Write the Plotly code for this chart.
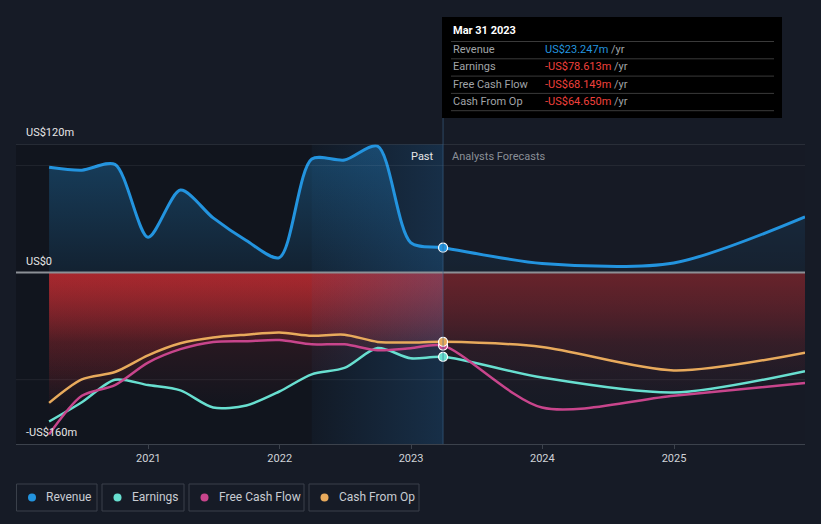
import plotly.graph_objects as go
import pandas as pd

# ---------------- data (US$ m) ----------------
dates_past = ['2020-03-31', '2020-06-30', '2020-09-30', '2020-12-31', '2021-03-31', '2021-06-30',
              '2021-09-30', '2021-12-31', '2022-03-31', '2022-06-30', '2022-09-30', '2022-12-31',
              '2023-03-31']
dates_fc = ['2023-12-31', '2024-12-31', '2025-12-31']

revenue_past = [98.4, 95.6, 101.0, 33.0, 77.0, 51.0, 30.0, 14.0, 106.0, 105.0, 118.0, 28.0, 23.247]
revenue_fc = [8.5, 9.0, 52.0]
earnings_past = [-139.0, -121.0, -100.0, -105.0, -110.0, -126.0, -124.0, -111.0, -95.0, -89.0, -70.5, -80.0, -78.613]
earnings_fc = [-98.0, -112.0, -92.0]
fcf_past = [-151.0, -115.0, -105.0, -84.0, -71.5, -64.7, -64.0, -63.0, -67.0, -67.0, -72.5, -70.6, -68.149]
fcf_fc = [-126.0, -115.0, -103.0]
cfo_past = [-121.6, -99.7, -92.8, -77.2, -66.0, -60.6, -58.0, -56.0, -59.0, -58.0, -64.7, -65.3, -64.65]
cfo_fc = [-69.4, -91.3, -74.7]

series_names = ['Revenue', 'Earnings', 'Free Cash Flow', 'Cash From Op']
tick_years = ['2021', '2022', '2023', '2024', '2025']
y_labels = ['US$120m', 'US$0', '-US$160m']
y_label_vals = [120, 0, -160]
tooltip_date = '2023-03-31'
tooltip_title = 'Mar 31 2023'
band_start = '2022-03-31'
x_range = ['2019-12-30', '2025-12-31']
y_range = [-160, 120]

# ---------------- style ----------------
BG = '#161b26'
C_REV = '#2394df'
C_EARN = '#68dfd0'
C_FCF = '#c8458c'
C_CFO = '#e8aa5c'
FONT = 'Roboto'

W, H = 821, 524
L, R, T, B = 16, 16, 144, 80
PW, PH = W - L - R, H - T - B


def px(x):
    return (x - L) / PW


def py(y):
    return (H - B - y) / PH


dates = dates_past + dates_fc
rev = revenue_past + revenue_fc
earn = earnings_past + earnings_fc
fcf = fcf_past + fcf_fc
cfo = cfo_past + cfo_fc
ti = dates.index(tooltip_date)

fig = go.Figure()

# revenue fill
fig.add_trace(go.Scatter(
    x=dates, y=rev, mode='lines', line=dict(width=0, shape='spline', smoothing=0.8),
    fill='tozeroy',
    fillgradient=dict(type='vertical', start=0, stop=120,
                      colorscale=[[0, 'rgba(35,148,223,0.10)'], [1, 'rgba(35,148,223,0.34)']]),
    hoverinfo='skip', showlegend=False))

# negative fills (red gradient)
for ys in (earn, fcf, cfo):
    fig.add_trace(go.Scatter(
        x=dates, y=ys, mode='lines', line=dict(width=0, shape='spline', smoothing=0.8),
        fill='tozeroy',
        fillgradient=dict(type='vertical', start=-130, stop=0,
                          colorscale=[[0, 'rgba(205,45,50,0)'], [0.5, 'rgba(205,45,50,0.12)'],
                                      [1, 'rgba(205,45,50,0.42)']]),
        hoverinfo='skip', showlegend=False))

# forecast darkening overlay (same colour as background)
fig.add_trace(go.Scatter(
    x=[tooltip_date, x_range[1], x_range[1], tooltip_date],
    y=[y_range[0], y_range[0], y_range[1], y_range[1]],
    mode='lines', line=dict(width=0), fill='toself', fillcolor='rgba(22,27,38,0.45)',
    hoverinfo='skip', showlegend=False))

# highlighted band (last 12 months)
fig.add_trace(go.Scatter(
    x=[band_start, tooltip_date, tooltip_date, band_start],
    y=[y_range[0], y_range[0], y_range[1], y_range[1]],
    mode='lines', line=dict(width=0), fill='toself',
    fillgradient=dict(type='horizontal',
                      colorscale=[[0, 'rgba(40,120,190,0.05)'], [1, 'rgba(40,120,190,0.26)']]),
    hoverinfo='skip', showlegend=False))

# lines
for ys, col, w in ((rev, C_REV, 3), (earn, C_EARN, 2.5), (fcf, C_FCF, 2.5), (cfo, C_CFO, 2.5)):
    fig.add_trace(go.Scatter(
        x=dates, y=ys, mode='lines', line=dict(color=col, width=w, shape='spline', smoothing=0.8),
        hoverinfo='skip', showlegend=False))

# markers at the tooltip date
for ys, col in ((rev, C_REV), (earn, C_EARN), (fcf, C_FCF), (cfo, C_CFO)):
    fig.add_trace(go.Scatter(
        x=[dates[ti]], y=[ys[ti]], mode='markers',
        marker=dict(color=col, size=9, line=dict(color='white', width=1.2)),
        hoverinfo='skip', showlegend=False))

shapes = []
# darker past background
shapes.append(dict(type='rect', xref='x', yref='paper', x0=x_range[0], x1=tooltip_date, y0=0, y1=1,
                   fillcolor='rgba(0,0,0,0.2)', line=dict(width=0), layer='below'))
# horizontal guide lines
shapes.append(dict(type='line', xref='paper', yref='y', x0=0, x1=1, y0=120, y1=120,
                   line=dict(color='#3c424c', width=1), layer='above'))
for gv in (100, -100):
    shapes.append(dict(type='line', xref='paper', yref='y', x0=0, x1=1, y0=gv, y1=gv,
                       line=dict(color='rgba(255,255,255,0.07)', width=1), layer='above'))
shapes.append(dict(type='line', xref='paper', yref='y', x0=0, x1=1, y0=0, y1=0,
                   line=dict(color='#8c9096', width=2), layer='above'))

# vertical marker line at tooltip date (paper coords so it extends above the plot)
t0 = pd.Timestamp(x_range[0]); t1 = pd.Timestamp(x_range[1]); tt = pd.Timestamp(tooltip_date)
xfrac = (tt - t0) / (t1 - t0)
shapes.append(dict(type='line', xref='paper', yref='paper', x0=xfrac, x1=xfrac, y0=0, y1=py(118),
                   line=dict(color='rgba(60,100,140,0.6)', width=1), layer='above'))

# tooltip box
shapes.append(dict(type='rect', xref='paper', yref='paper', x0=px(442), x1=px(782), y0=py(118), y1=py(17),
                   fillcolor='#000000', line=dict(width=0), layer='above'))
for sy in (41.5, 58.8, 76.1, 93.4, 110.7):
    shapes.append(dict(type='line', xref='paper', yref='paper', x0=px(451), x1=px(774), y0=py(sy), y1=py(sy),
                       line=dict(color='#3a3a3a', width=1), layer='above'))

annotations = []
annotations.append(dict(xref='paper', yref='paper', x=px(451), y=py(31), xanchor='left', yanchor='middle',
                        text='<b>' + tooltip_title + '</b>', showarrow=False,
                        font=dict(family=FONT, size=11, color='#ffffff')))
vals = [rev[ti], earn[ti], fcf[ti], cfo[ti]]
row_y = [49, 66.5, 84, 101]
for name, v, ry in zip(series_names, vals, row_y):
    col = C_REV if v >= 0 else '#f0403c'
    txt = ('-' if v < 0 else '') + 'US$%.3fm' % abs(v)
    annotations.append(dict(xref='paper', yref='paper', x=px(451), y=py(ry), xanchor='left', yanchor='middle',
                            text=name, showarrow=False, font=dict(family=FONT, size=11, color='#a0a4a8')))
    annotations.append(dict(xref='paper', yref='paper', x=px(543), y=py(ry), xanchor='left', yanchor='middle',
                            text='<span style="color:%s">%s</span> /yr' % (col, txt), showarrow=False,
                            font=dict(family=FONT, size=11, color='#a0a4a8')))

# y labels
for lab, v in zip(y_labels, y_label_vals):
    annotations.append(dict(xref='paper', yref='y', x=px(24), y=v, xanchor='left', yanchor='bottom',
                            yshift=3, text=lab, showarrow=False,
                            font=dict(family=FONT, size=11, color='#e6e6e6')))

# Past / Analysts Forecasts
annotations.append(dict(xref='x', yref='paper', x=tooltip_date, y=py(156), xanchor='right', yanchor='middle',
                        xshift=-7, text='Past', showarrow=False, font=dict(family=FONT, size=11, color='#e6e6e6')))
annotations.append(dict(xref='x', yref='paper', x=tooltip_date, y=py(156), xanchor='left', yanchor='middle',
                        xshift=7, text='Analysts Forecasts', showarrow=False,
                        font=dict(family=FONT, size=11, color='#8a8f97')))

# manual legend
leg_boxes = [(16.5, 97), (102, 184), (189, 304), (309, 419)]
leg_cols = [C_REV, C_EARN, C_FCF, C_CFO]
for (x0, x1), name, col in zip(leg_boxes, series_names, leg_cols):
    shapes.append(dict(type='rect', xref='paper', yref='paper', x0=px(x0), x1=px(x1), y0=py(511), y1=py(484),
                       line=dict(color='#3a404a', width=1), fillcolor='rgba(0,0,0,0)', layer='above'))
    cx = x0 + 15.5
    shapes.append(dict(type='circle', xref='paper', yref='paper', x0=px(cx - 4), x1=px(cx + 4),
                       y0=py(501.5), y1=py(493.5), fillcolor=col, line=dict(width=0), layer='above'))
    annotations.append(dict(xref='paper', yref='paper', x=px(x0 + 27.5), y=py(497.5), xanchor='left',
                            yanchor='middle', text=name, showarrow=False,
                            font=dict(family=FONT, size=12, color='#c8ccd2')))

fig.update_layout(
    width=W, height=H, margin=dict(l=L, r=R, t=T, b=B),
    paper_bgcolor=BG, plot_bgcolor=BG,
    showlegend=False, shapes=shapes, annotations=annotations,
    font=dict(family=FONT),
    xaxis=dict(type='date', range=x_range, showgrid=False, zeroline=False,
               tickvals=[y + '-01-01' for y in tick_years], ticktext=tick_years,
               tickfont=dict(family=FONT, size=11, color='#d0d3d8'),
               ticks='outside', ticklen=4, tickcolor='#3c424c',
               showline=True, linecolor='#3c424c', linewidth=1),
    yaxis=dict(range=y_range, showgrid=False, zeroline=False, showticklabels=False, showline=False),
)

fig.write_html('out.html', config={'displayModeBar': False},
               post_script="document.body.style.margin='0';document.body.style.overflow='hidden';"
                           "document.body.style.background='" + BG + "';")
